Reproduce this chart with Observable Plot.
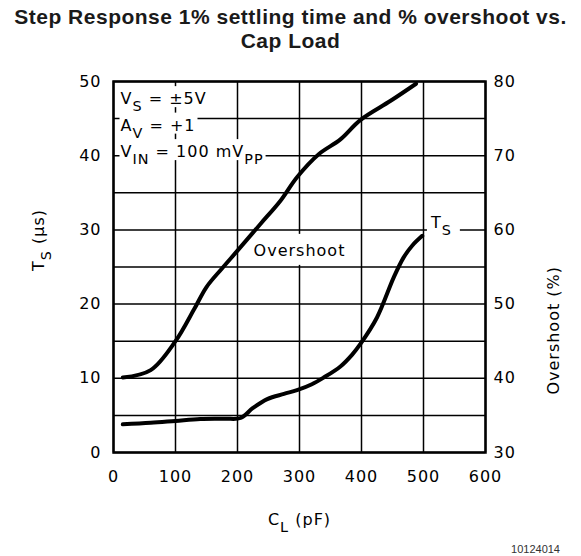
<!DOCTYPE html>
<html><head><meta charset="utf-8">
<script src="https://cdn.jsdelivr.net/npm/d3@7"></script>
<script src="https://cdn.jsdelivr.net/npm/@observablehq/plot@0.6"></script>
<style>
body{margin:0;background:#fff;}
#wrap{position:relative;width:581px;height:556px;overflow:hidden;background:#fff;}
.title{position:absolute;left:0;width:581px;font-family:"Liberation Sans",Arial,sans-serif;font-weight:bold;font-size:21px;line-height:21px;letter-spacing:0.5px;color:#1a1a1a;text-align:center;white-space:nowrap;}
#chart{position:absolute;left:0;top:0;}
#foot{position:absolute;right:21px;top:544px;font-family:"Liberation Sans",Arial,sans-serif;font-size:11px;line-height:11px;color:#333;}
</style></head>
<body><div id="wrap">
<div id="chart"></div>
<div class="title" style="top:6px;">Step Response 1% settling time and % overshoot vs.</div>
<div class="title" style="top:30px;">Cap Load</div>
<div id="foot">10124014</div>
</div>
<script>
// ---- data ----
const capLoadTs = [15, 60, 100, 140, 180, 205, 225, 248, 275, 296, 320, 339, 366, 385, 398, 425, 452, 468, 482, 498];
const settlingTime = [3.8, 4.0, 4.25, 4.5, 4.55, 4.65, 6.0, 7.2, 7.9, 8.4, 9.2, 10.1, 11.6, 13.2, 14.6, 18.2, 23.6, 26.3, 27.9, 29.2];
const capLoadOs = [15, 60, 100, 130, 150, 175, 200, 237, 269, 296, 331, 366, 398, 447, 488];
const overshootPct = [40.1, 41.1, 45.0, 49.3, 52.3, 54.8, 57.2, 60.8, 63.9, 67.1, 70.2, 72.2, 74.8, 77.4, 79.7];
const xTicks = [0, 100, 200, 300, 400, 500, 600];
const tsTicks = [0, 10, 20, 30, 40, 50];
const gridLevels = [0, 5, 10, 15, 20, 25, 30, 35, 40, 45, 50];
const overshootTicks = [30, 40, 50, 60, 70, 80];
const overshootBase = 30; // right axis = left axis + 30
const conditions = ["V_{S} = ±5V", "A_{V} = +1", "V_{IN} = 100 mV_{PP}"];
const curveLabels = ["Overshoot"];
const tsLabel = ["T_{S}"];
const xLabel = ["C_{L} (pF)"];
const yLabel = ["T_{S} (μs)"];
const y2Label = ["Overshoot (%)"];

const tsData = capLoadTs.map((c, i) => ({c, v: settlingTime[i]}));
const osData = capLoadOs.map((c, i) => ({c, v: overshootPct[i]}));

const SUB = 7;
const plot = Plot.plot({
  width: 581, height: 556,
  marginTop: 81, marginBottom: 104, marginLeft: 113, marginRight: 96,
  x: {domain: [0, 600]},
  y: {domain: [0, 50]},
  style: {fontFamily: "'DejaVu Sans', sans-serif", fontSize: "16px", color: "black", background: "white", letterSpacing: "1px"},
  marks: [
    Plot.gridY(gridLevels, {stroke: "black", strokeOpacity: 1, strokeWidth: 1.5}),
    Plot.gridX(xTicks, {stroke: "black", strokeOpacity: 1, strokeWidth: 1.5}),
    Plot.axisX(xTicks, {tickSize: 0, tickPadding: 18, label: null}),
    Plot.axisY(tsTicks, {tickSize: 0, tickPadding: 12, label: null}),
    Plot.axisY(overshootTicks.map(d => d - overshootBase), {anchor: "right", tickSize: 0, tickPadding: 8, tickFormat: d => d + overshootBase, label: null}),
    Plot.text(conditions, {x: 11.3, y: (d, i) => 46.95 - i * 3.57, text: d => d, textAnchor: "start", lineAnchor: "bottom"}),
    Plot.text(curveLabels, {x: 300, y: 26.5, text: d => d, textAnchor: "middle", lineAnchor: "bottom"}),
    Plot.text(tsLabel, {x: 512, y: 30.2, text: d => d, textAnchor: "start", lineAnchor: "bottom"}),
    Plot.line(osData, {x: "c", y: d => d.v - overshootBase, curve: "catmull-rom", stroke: "black", strokeWidth: 4, strokeLinecap: "round"}),
    Plot.line(tsData, {x: "c", y: "v", curve: "catmull-rom", stroke: "black", strokeWidth: 4, strokeLinecap: "round"}),
    Plot.text(xLabel, {frameAnchor: "bottom", dy: 72, text: d => d, lineAnchor: "bottom"}),
    Plot.text(yLabel, {frameAnchor: "left", dx: -70, dy: 4, rotate: -90, text: d => d, lineAnchor: "bottom"}),
    Plot.text(y2Label, {frameAnchor: "right", dx: 73, dy: -1, rotate: -90, text: d => d, lineAnchor: "bottom"}),
    Plot.frame({stroke: "black", strokeWidth: 2.5})
  ]
});
document.getElementById("chart").appendChild(plot);

// find annotation texts before rewriting them
const allTexts = Array.from(plot.querySelectorAll("text"));
const maskSpecs = [
  {labels: conditions, pad: [1, 2, 5, 3]},
  {labels: curveLabels, pad: [2, 4, 9, 9]},
  {labels: tsLabel, pad: [3, 8, 3, 6]}
].map(s => ({texts: allTexts.filter(t => s.labels.includes(t.textContent)), pad: s.pad}));

// subscripts
d3.select(plot).selectAll("text").each(function() {
  const t = this.textContent;
  if (!t.includes("_{")) return;
  const parts = t.split(/(_\{[^}]*\})/).filter(s => s.length);
  const sel = d3.select(this);
  sel.text(null);
  let shifted = false;
  for (const p of parts) {
    if (p.startsWith("_{")) {
      sel.append("tspan").attr("dy", SUB).attr("font-size", "0.9em").text(p.slice(2, -1));
      shifted = true;
    } else {
      const ts = sel.append("tspan").text(p);
      if (shifted) { ts.attr("dy", -SUB); shifted = false; }
    }
  }
});

// white masks behind annotation texts (hide grid lines under them)
for (const spec of maskSpecs) {
  const [pl, pr, pt, pb] = spec.pad;
  for (const t of spec.texts) {
    const bb = t.getBBox();
    let base;
    try { base = t.getStartPositionOfChar(0).y; } catch (e) { base = bb.y + bb.height * 0.78; }
    const r = document.createElementNS("http://www.w3.org/2000/svg", "rect");
    r.setAttribute("x", bb.x - pl);
    r.setAttribute("y", base - 13 - pt);
    r.setAttribute("width", bb.width + pl + pr);
    r.setAttribute("height", 13 + pt + pb);
    r.setAttribute("fill", "white");
    r.setAttribute("stroke", "none");
    const tr = t.getAttribute("transform");
    if (tr) r.setAttribute("transform", tr);
    const parent = t.parentNode;
    parent.insertBefore(r, parent.firstChild);
  }
}
</script>
</body></html>
